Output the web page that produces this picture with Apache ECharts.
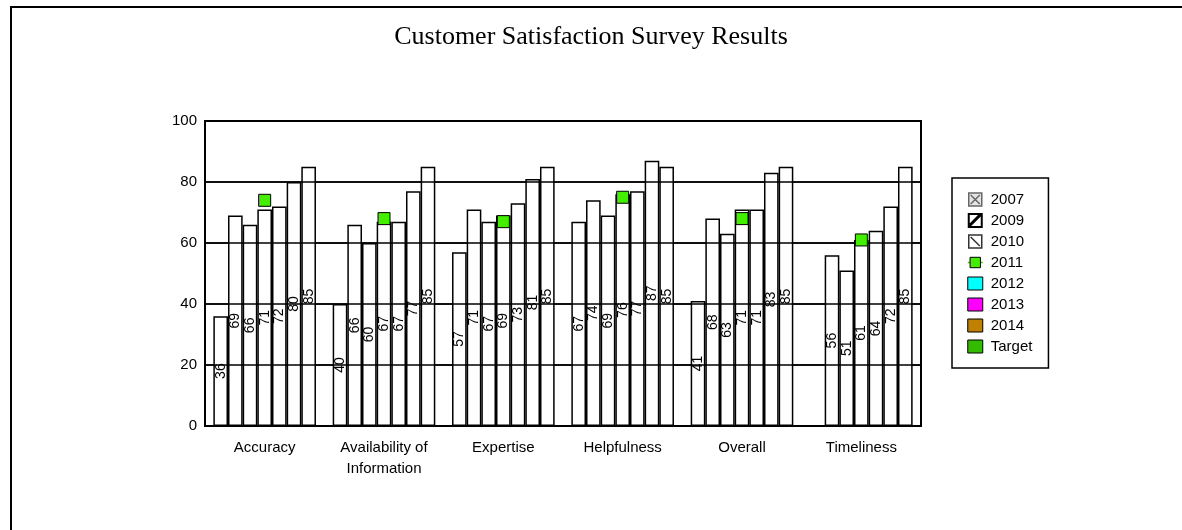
<!DOCTYPE html>
<html>
<head>
<meta charset="utf-8">
<script src="https://cdn.jsdelivr.net/npm/echarts@6/dist/echarts.min.js"></script>
<style>
  html, body { margin: 0; padding: 0; background: #fff; }
  #chart { width: 1182px; height: 530px; }
</style>
</head>
<body>
<div id="chart"></div>
<script>
// ---- data ----
var categories = ['Accuracy', 'Availability of\nInformation', 'Expertise', 'Helpfulness', 'Overall', 'Timeliness'];
var s2007 = [36, 40, 57, 67, 41, null];
var s2009 = [69, 66, 71, 74, 68, 56];
var s2010 = [66, 60, 67, 69, 63, 51];
var s2011 = [74, 68, 67, 75, 68, 61];   // square markers
var s2012 = [71, 67, 69, 76, 71, 61];
var s2013 = [72, 67, 73, 77, 71, 64];
var s2014 = [80, 77, 81, 87, 83, 72];
var sTarget = [85, 85, 85, 85, 85, 85];
var yTicks = [0, 20, 40, 60, 80, 100];

var FONT = '"Liberation Sans", Arial, sans-serif';

function barSeries(name, data) {
  return {
    name: name,
    type: 'bar',
    data: data,
    barGap: '0%',
    barCategoryGap: '14%',
    z: 2,
    itemStyle: { color: '#ffffff', borderColor: '#000000', borderWidth: 1.5 },
    label: {
      show: true,
      position: 'inside',
      rotate: 90,
      color: '#000',
      fontFamily: FONT,
      fontSize: 14
    },
    emphasis: { disabled: true }
  };
}

var chart = echarts.init(document.getElementById('chart'), null, { renderer: 'canvas' });

var GRID = { left: 205, right: 261, top: 121, bottom: 104 };

var baseGraphics = [
  { type: 'polyline', silent: true, z: 100, shape: { points: [[11, 530], [11, 7], [1182, 7]] }, style: { stroke: '#000', lineWidth: 2, fill: null } },
  { type: 'rect', silent: true, z: 100, shape: { x: GRID.left, y: GRID.top, width: 1182 - GRID.right - GRID.left, height: 530 - GRID.bottom - GRID.top }, style: { stroke: '#000', lineWidth: 2, fill: null } }
];

var option = {
  animation: false,
  backgroundColor: '#ffffff',
  title: {
    text: 'Customer Satisfaction Survey Results',
    left: 'center',
    top: 19,
    textStyle: { fontFamily: '"Liberation Serif", "Times New Roman", serif', fontSize: 26, fontWeight: 'normal', color: '#000' }
  },
  graphic: baseGraphics,
  legend: {
    orient: 'vertical',
    left: 952,
    top: 178,
    padding: [14, 16, 14, 15],
    itemWidth: 15,
    itemHeight: 13,
    itemGap: 6,
    borderColor: '#000',
    borderWidth: 1.5,
    textStyle: { fontFamily: FONT, fontSize: 15, color: '#000', padding: [0, 0, 0, 3] },
    selectedMode: false,
    data: [
      { name: '2007', icon: 'path://M0,0L10,0L10,10L0,10Z M1.5,1.5L8.5,8.5 M8.5,1.5L1.5,8.5', itemStyle: { color: '#e4e4e4', borderColor: '#666', borderWidth: 1.5 } },
      { name: '2009', icon: 'path://M0,0L10,0L10,10L0,10Z M0,10L10,0 M1,8L8,1', itemStyle: { color: '#fff', borderColor: '#000', borderWidth: 2 } },
      { name: '2010', icon: 'path://M0,0L10,0L10,10L0,10Z M1.5,1.5L8.5,8.5', itemStyle: { color: '#fff', borderColor: '#333', borderWidth: 1.5 } },
      { name: '2011', itemStyle: { color: '#44ee00', borderColor: '#000', borderWidth: 1 }, lineStyle: { color: '#44cc00', width: 1.5, opacity: 1 } },
      { name: '2012', icon: 'rect', itemStyle: { color: '#00ffff', borderColor: '#000', borderWidth: 1 } },
      { name: '2013', icon: 'rect', itemStyle: { color: '#ff00ff', borderColor: '#000', borderWidth: 1 } },
      { name: '2014', icon: 'rect', itemStyle: { color: '#c08000', borderColor: '#000', borderWidth: 1 } },
      { name: 'Target', icon: 'rect', itemStyle: { color: '#33bb00', borderColor: '#000', borderWidth: 1 } }
    ]
  },
  grid: { left: GRID.left, right: GRID.right, top: GRID.top, bottom: GRID.bottom, containLabel: false },
  xAxis: {
    type: 'category',
    data: categories,
    axisLine: { show: true, lineStyle: { color: '#000', width: 2 } },
    axisTick: { show: false },
    axisLabel: { color: '#000', fontFamily: FONT, fontSize: 15, margin: 11, lineHeight: 21, interval: 0 },
    splitLine: { show: false }
  },
  yAxis: {
    type: 'value',
    min: yTicks[0],
    max: yTicks[yTicks.length - 1],
    interval: yTicks[1] - yTicks[0],
    axisLine: { show: true, lineStyle: { color: '#000', width: 2 } },
    axisTick: { show: false },
    axisLabel: { color: '#000', fontFamily: FONT, fontSize: 15, margin: 8 },
    splitLine: { show: true, lineStyle: { color: '#000', width: 1.5 } }
  },
  series: [
    barSeries('2007', s2007),
    barSeries('2009', s2009),
    barSeries('2010', s2010),
    {
      name: '2011',
      type: 'line',
      data: s2011,
      symbol: 'rect',
      symbolSize: 12,
      showSymbol: true,
      z: 200,
      lineStyle: { opacity: 0 },
      itemStyle: { color: '#44ee00', borderColor: '#000', borderWidth: 1 },
      emphasis: { disabled: true }
    },
    barSeries('2012', s2012),
    barSeries('2013', s2013),
    barSeries('2014', s2014),
    barSeries('Target', sTarget)
  ]
};

chart.setOption(option);

// horizontal gridlines drawn over the bars, positioned through the y axis scale
var x0 = GRID.left, x1 = 1182 - GRID.right;
var overLines = yTicks.slice(1, yTicks.length - 1).map(function (v) {
  var y = chart.convertToPixel({ yAxisIndex: 0 }, v);
  return { type: 'line', silent: true, z: 50, shape: { x1: x0, y1: y, x2: x1, y2: y }, style: { stroke: '#000', lineWidth: 1.5 } };
});
chart.setOption({ graphic: baseGraphics.concat(overLines) });
</script>
</body>
</html>
